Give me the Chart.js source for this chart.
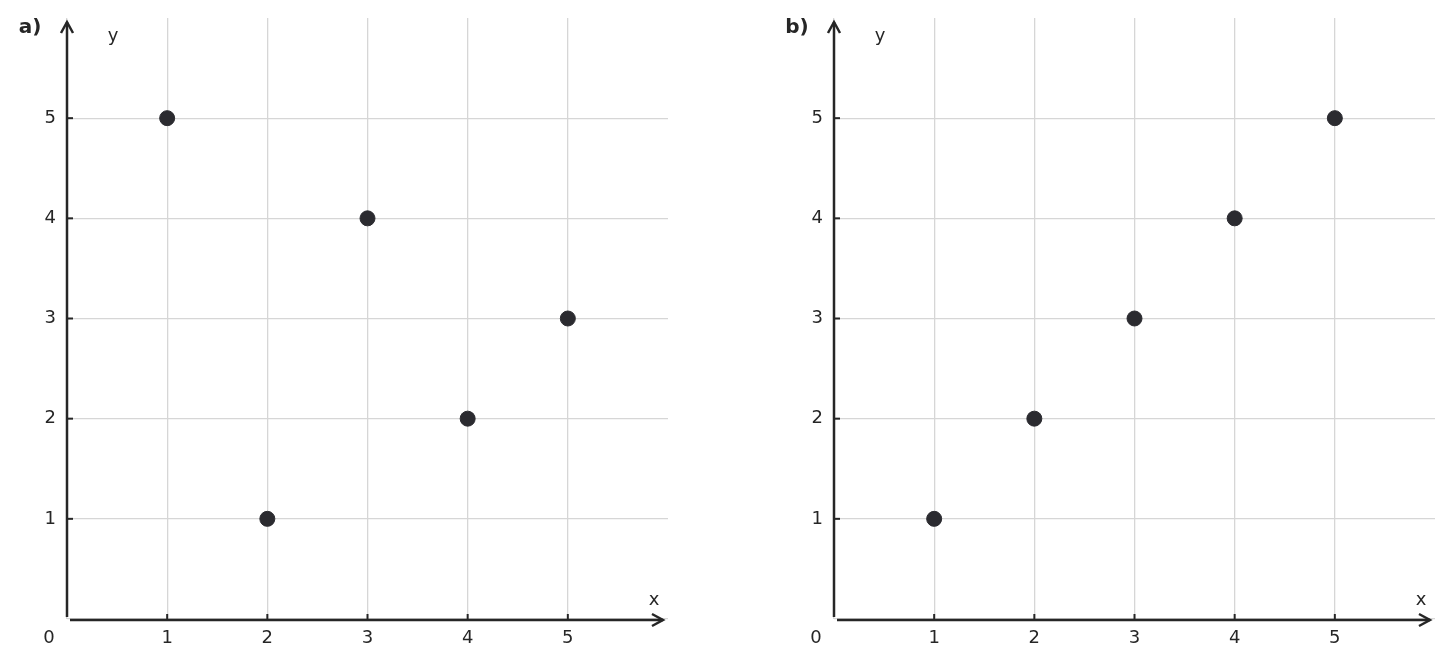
<!DOCTYPE html>
<html>
<head>
<meta charset="utf-8">
<script src="https://cdn.jsdelivr.net/npm/chart.js@4"></script>
<style>
  html, body { margin: 0; padding: 0; background: #fff; overflow: hidden; }
  #wrap { position: relative; width: 1453px; height: 668px; }
  canvas { position: absolute; top: 0; }
</style>
</head>
<body>
<div id="wrap">
  <canvas id="chartA" width="726" height="668" style="left:0px"></canvas>
  <canvas id="chartB" width="686" height="668" style="left:767px"></canvas>
</div>
<script>
// data
const xValues = [1, 2, 3, 4, 5];
const yValuesA = [5, 1, 4, 2, 3];
const yValuesB = [1, 2, 3, 4, 5];
const tickValues = [1, 2, 3, 4, 5];
const panelLabels = ["a)", "b)"];

const FONT = "'DejaVu Sans', sans-serif";
const INK = "#262626";
const GRID = "#d6d6d6";

// draws the arrow axes, small tick marks and the labels on top of the grid
function axesPlugin(panelLabel) {
    return {
        id: "arrowAxes",
        beforeDatasetsDraw(chart) {
            const c = chart.ctx;
            const xs = chart.scales.x;
            const ys = chart.scales.y;
            const x0 = xs.getPixelForValue(0);
            const y0 = ys.getPixelForValue(0);
            const xEnd = xs.getPixelForValue(5.95);
            const yEnd = ys.getPixelForValue(5.96);

            c.save();
            c.strokeStyle = INK;
            c.lineWidth = 2.5;
            c.lineCap = "butt";

            // y axis
            c.beginPath();
            c.moveTo(x0, y0 - 2);
            c.lineTo(x0, yEnd);
            c.stroke();
            // x axis
            c.beginPath();
            c.moveTo(x0 + 3, y0 + 1);
            c.lineTo(xEnd, y0 + 1);
            c.stroke();

            // arrow heads
            c.lineJoin = "miter";
            c.beginPath();
            c.moveTo(x0 - 6, yEnd + 11);
            c.lineTo(x0, yEnd);
            c.lineTo(x0 + 6, yEnd + 11);
            c.stroke();
            c.beginPath();
            c.moveTo(xEnd - 11, y0 + 1 - 6);
            c.lineTo(xEnd, y0 + 1);
            c.lineTo(xEnd - 11, y0 + 1 + 6);
            c.stroke();

            // small tick marks
            c.lineWidth = 2;
            tickValues.forEach(v => {
                const px = xs.getPixelForValue(v);
                c.beginPath();
                c.moveTo(px, y0);
                c.lineTo(px, y0 - 5);
                c.stroke();
                const py = ys.getPixelForValue(v);
                c.beginPath();
                c.moveTo(x0, py);
                c.lineTo(x0 + 6, py);
                c.stroke();
            });

            // axis names, origin and panel label
            c.fillStyle = INK;
            c.font = "18px " + FONT;
            c.textAlign = "center";
            c.textBaseline = "middle";
            c.fillText("y", xs.getPixelForValue(0.46), ys.getPixelForValue(5.82));
            c.fillText("x", xs.getPixelForValue(5.86), ys.getPixelForValue(0.19));
            c.fillText("0", x0 - 18, y0 + 19);
            c.font = "bold 20px " + FONT;
            c.fillText(panelLabel, x0 - 37, ys.getPixelForValue(5.9));
            c.restore();
        }
    };
}

function makeChart(canvasId, yValues, panelLabel, rightPad) {
    const points = xValues.map((x, i) => ({ x: x, y: yValues[i] }));
    const gridColor = ctx => (ctx.tick && ctx.tick.value <= 5 ? GRID : "rgba(0,0,0,0)");
    const tickLabel = v => (v >= 1 && v <= 5 ? v : "");

    return new Chart(document.getElementById(canvasId).getContext("2d"), {
        type: "scatter",
        data: {
            datasets: [{
                data: points,
                backgroundColor: "#2b2b30",
                borderColor: "#2b2b30",
                pointRadius: 7.5,
                pointHoverRadius: 7.5
            }]
        },
        options: {
            responsive: false,
            animation: false,
            events: [],
            layout: { padding: { top: 18, right: rightPad, left: 0, bottom: 0 } },
            plugins: { legend: { display: false }, tooltip: { enabled: false } },
            scales: {
                x: {
                    type: "linear",
                    min: 0,
                    max: 6,
                    border: { display: false },
                    grid: { color: gridColor, lineWidth: 1.3, drawTicks: false },
                    ticks: {
                        stepSize: 1,
                        padding: 9,
                        color: INK,
                        font: { family: FONT, size: 18 },
                        callback: tickLabel,
                        maxRotation: 0
                    },
                    afterFit: scale => {
                        scale.height = 49;
                        scale.paddingLeft = 0;
                        scale.paddingRight = 0;
                    }
                },
                y: {
                    type: "linear",
                    min: 0,
                    max: 6,
                    border: { display: false },
                    grid: { color: gridColor, lineWidth: 1.3, drawTicks: false },
                    ticks: {
                        stepSize: 1,
                        padding: 11,
                        color: INK,
                        font: { family: FONT, size: 18 },
                        callback: tickLabel
                    },
                    afterFit: scale => {
                        scale.width = 67;
                        scale.paddingTop = 0;
                        scale.paddingBottom = 0;
                    }
                }
            }
        },
        plugins: [axesPlugin(panelLabel)]
    });
}

makeChart("chartA", yValuesA, panelLabels[0], 58);
makeChart("chartB", yValuesB, panelLabels[1], 18);
</script>
</body>
</html>
